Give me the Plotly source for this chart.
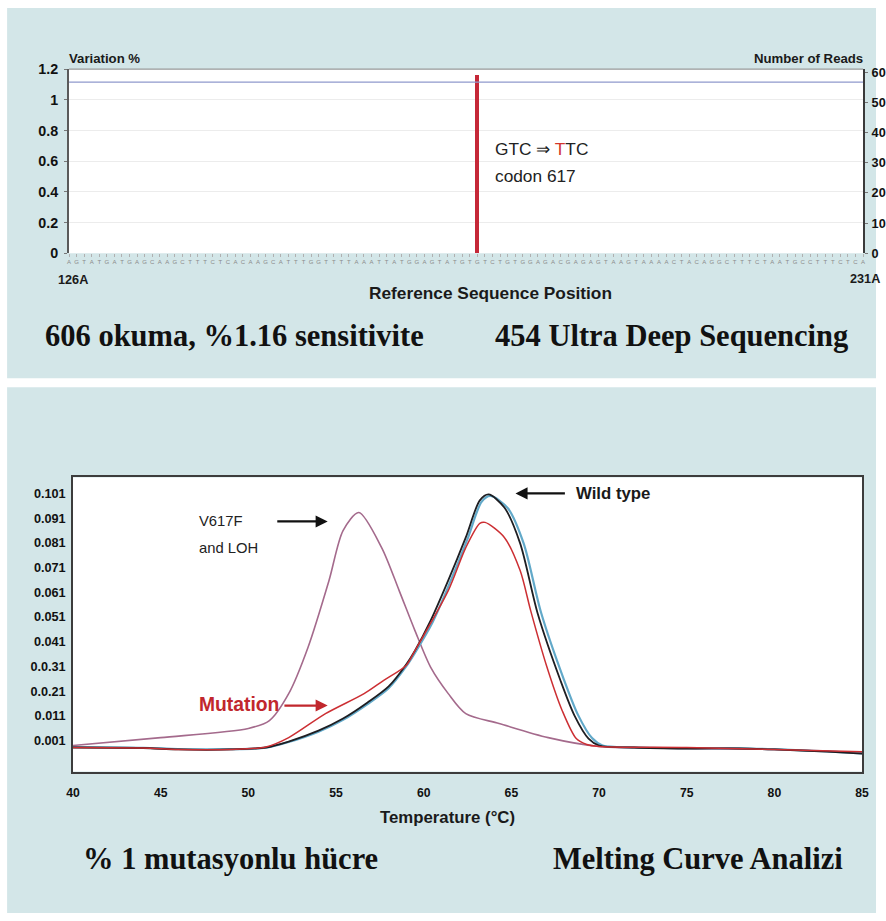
import plotly.graph_objects as go

W, H = 886, 921
# the photographed page is shrunk slightly and offset; positions below are given in
# reference-picture pixels and converted with this measured mapping
SHOT_SCALE = 0.982
SHOT_OFFSET = 7.9

# ---------------- data: top chart (454 ultra deep sequencing) ----------------
seq_start = 126
seq_end = 231
sequence = "AGTATGATGAGCAAGCTTTCTCACAAGCATTTGGTTTTAAATTATGGAGTATGTGTCTGTGGAGACGAGAGTAAGTAAAACTACAGGCTTTCTAATGCCTTTCTCAG"
variant_position = [180]
variation_pct = [1.16]
coverage_reads = [56.7, 56.7]
coverage_x = [126, 231]
left_ticks = [0, 0.2, 0.4, 0.6, 0.8, 1, 1.2]
left_ticktext = ["0", "0.2", "0.4", "0.6", "0.8", "1", "1.2"]
right_ticks = [0, 10, 20, 30, 40, 50, 60]

# ---------------- data: bottom chart (melting curves) ----------------
black_T = [40, 44, 46, 49, 51, 52.3, 54.0, 55.4, 56.8, 58.0, 59.0, 59.5, 60.4, 61.4, 62.4, 63.2, 63.7,
           64.6, 65.5, 66.5, 67.8, 68.6, 69.4, 70.0, 72, 75, 78, 80, 83, 85]
black_v = [-0.0018, -0.0020, -0.0026, -0.0026, -0.0018, 0.0006, 0.0050, 0.0099, 0.0164, 0.0229, 0.0318,
           0.0374, 0.0496, 0.0658, 0.0832, 0.0982, 0.1006, 0.0953, 0.0808, 0.0524, 0.0253, 0.0111, 0.0018,
           -0.0010, -0.0018, -0.0022, -0.0022, -0.0026, -0.0035, -0.0043]

blue_T = [40, 44, 46, 49, 51, 52.3, 54.0, 55.4, 56.8, 58.0, 59.0, 59.5, 60.5, 61.5, 62.5, 63.3, 63.8,
          64.8, 65.7, 66.7, 68.0, 68.8, 69.6, 70.2, 72, 75, 78, 80, 83, 85]
blue_v = [-0.0016, -0.0019, -0.0024, -0.0025, -0.0019, 0.0004, 0.0046, 0.0094, 0.0158, 0.0222, 0.0310,
          0.0365, 0.0488, 0.0650, 0.0826, 0.0976, 0.1000, 0.0950, 0.0808, 0.0526, 0.0256, 0.0114, 0.0020,
          -0.0010, -0.0017, -0.0021, -0.0021, -0.0025, -0.0034, -0.0042]

red_T = [40, 44, 46, 49, 51, 52.3, 54.4, 56.6, 57.7, 59.0, 59.5, 61.4, 62.4, 63.2, 63.5, 64.6, 65.5,
         66.1, 67.0, 67.9, 68.7, 69.3, 70, 75, 80, 85]
red_v = [-0.0018, -0.0020, -0.0026, -0.0026, -0.0016, 0.0022, 0.0119, 0.0200, 0.0253, 0.0314, 0.0374,
         0.0617, 0.0791, 0.0889, 0.0893, 0.0832, 0.0698, 0.0536, 0.0314, 0.0131, 0.0018, -0.0006, -0.0014,
         -0.0018, -0.0026, -0.0035]

purple_T = [40, 45, 50, 51.2, 52.3, 53.4, 54.6, 55.4, 56.3, 57.6, 58.6, 59.5, 60.4, 61.4, 62.4, 64.3,
            67.1, 70.0, 75, 80, 85]
purple_v = [-0.0010, 0.0022, 0.0059, 0.0091, 0.0200, 0.0387, 0.0658, 0.0860, 0.0933, 0.0791, 0.0617,
            0.0455, 0.0306, 0.0200, 0.0119, 0.0079, 0.0022, -0.0014, -0.0022, -0.0026, -0.0039]

temp_ticks = [40, 45, 50, 55, 60, 65, 70, 75, 80, 85]
deriv_ticks = [0.001, 0.011, 0.021, 0.031, 0.041, 0.051, 0.061, 0.071, 0.081, 0.091, 0.101]
deriv_ticktext = ["0.001", "0.011", "0.0.21", "0.0.31", "0.041", "0.051", "0.061", "0.071", "0.081",
                  "0.091", "0.101"]


def px(x):
    return min(max((x - SHOT_OFFSET) / SHOT_SCALE / W, 0), 1)


def py(y):
    return min(max(1 - (y - SHOT_OFFSET) / SHOT_SCALE / H, 0), 1)


def fs(size):
    return round(size / SHOT_SCALE, 1)


SANS = "Liberation Sans, Arial, sans-serif"
SERIF = "Liberation Serif, Times New Roman, serif"
PANEL = "#d3e6e8"

positions = list(range(seq_start, seq_end + 1))
letters = list(sequence[:len(positions)])

fig = go.Figure()

# top chart traces
fig.add_trace(go.Bar(x=variant_position, y=variation_pct, width=0.55, marker_color="#c52838",
                     marker_line_width=0, xaxis="x", yaxis="y", showlegend=False, hoverinfo="skip"))
fig.add_trace(go.Scatter(x=coverage_x, y=coverage_reads, mode="lines", line=dict(color="#8f99cc", width=1.2),
                         xaxis="x", yaxis="y2", showlegend=False, hoverinfo="skip"))

# bottom chart traces
fig.add_trace(go.Scatter(x=purple_T, y=purple_v, mode="lines",
                         line=dict(color="#a46a8c", width=1.6, shape="spline", smoothing=0.8),
                         xaxis="x2", yaxis="y3", showlegend=False))
fig.add_trace(go.Scatter(x=blue_T, y=blue_v, mode="lines",
                         line=dict(color="#62a9c9", width=2.2, shape="spline", smoothing=0.8),
                         xaxis="x2", yaxis="y3", showlegend=False))
fig.add_trace(go.Scatter(x=black_T, y=black_v, mode="lines",
                         line=dict(color="#1e1e22", width=1.8, shape="spline", smoothing=0.8),
                         xaxis="x2", yaxis="y3", showlegend=False))
fig.add_trace(go.Scatter(x=red_T, y=red_v, mode="lines",
                         line=dict(color="#cc2f33", width=1.5, shape="spline", smoothing=0.8),
                         xaxis="x2", yaxis="y3", showlegend=False))

shapes = [
    dict(type="rect", xref="paper", yref="paper", x0=px(8), x1=1, y0=py(378), y1=1,
         fillcolor=PANEL, line_width=0, layer="below"),
    dict(type="rect", xref="paper", yref="paper", x0=px(8), x1=1, y0=py(916), y1=py(387),
         fillcolor=PANEL, line_width=0, layer="below"),
    dict(type="rect", xref="x domain", yref="y domain", x0=0, x1=1, y0=0, y1=1,
         fillcolor="white", line_width=0, layer="below"),
    dict(type="rect", xref="x2 domain", yref="y3 domain", x0=0, x1=1, y0=0, y1=1,
         fillcolor="white", line_width=0, layer="below"),
    dict(type="line", xref="x domain", yref="y domain", x0=0, x1=1, y0=1, y1=1,
         line=dict(color="#9a9a9a", width=1.2)),
]

annotations = []


def txt(text, x, y, size, xanchor="left", color="#1a1a1a", family=SANS, weight="bold"):
    annotations.append(dict(text=text, x=px(x), y=py(y), xref="paper", yref="paper", xanchor=xanchor,
                            yanchor="middle", showarrow=False,
                            font=dict(size=fs(size), color=color, family=family, weight=weight)))


def arrow(x_head, x_tail, y, color):
    annotations.append(dict(text="", x=px(x_head), y=py(y), xref="paper", yref="paper",
                            ax=(x_tail - x_head) / SHOT_SCALE, ay=0, axref="pixel", ayref="pixel",
                            showarrow=True, arrowhead=2, arrowsize=1.1, arrowwidth=2.2, arrowcolor=color))


# top chart texts
txt("Variation %", 68, 58, 13)
txt("Number of Reads", 867, 58, 13, xanchor="right")
txt("126A", 57, 280, 12.5)
txt("231A", 850, 279, 12.5)
txt("Reference Sequence Position", 492, 293, 17, xanchor="center")
txt("GTC \u21d2 <span style='color:#d2352c'>T</span>TC", 494, 149, 17, color="#222222", weight="normal")
txt("codon 617", 494, 176, 17, color="#222222", weight="normal")
txt("606 okuma, %1.16 sensitivite", 44, 336, 30, family=SERIF, color="#111111")
txt("454 Ultra Deep Sequencing", 494, 336, 30, family=SERIF, color="#111111")

# bottom chart texts
txt("V617F", 198, 521, 14.5, color="#222222", weight="normal")
txt("and LOH", 198, 548, 14.5, color="#222222", weight="normal")
arrow(329, 278, 521, "#111111")
txt("Wild type", 576, 493, 16.5)
arrow(517, 567, 493, "#111111")
txt("Mutation", 198, 704, 19, color="#c1272d")
arrow(329, 285, 705, "#c1272d")
txt("Temperature (°C)", 449, 817, 16.5, xanchor="center")
txt("% 1 mutasyonlu hücre", 82, 858, 30, family=SERIF, color="#111111")
txt("Melting Curve Analizi", 553, 858, 30, family=SERIF, color="#111111")

fig.update_layout(
    width=W, height=H, margin=dict(l=0, r=0, t=0, b=0),
    paper_bgcolor="white", plot_bgcolor="rgba(0,0,0,0)",
    shapes=shapes, annotations=annotations, bargap=0,
    xaxis=dict(domain=[px(70), px(865)], range=[seq_start, seq_end], anchor="y",
               tickmode="array", tickvals=positions, ticktext=letters, tickangle=0,
               tickfont=dict(size=6, color="#8a8a8a", family=SANS),
               ticks="outside", ticklen=3, tickwidth=1, tickcolor="#b0b0b0",
               showgrid=False, zeroline=False, showline=False, fixedrange=True),
    yaxis=dict(domain=[py(253), py(69)], range=[0, 1.2], anchor="x",
               tickmode="array", tickvals=left_ticks, ticktext=left_ticktext,
               tickfont=dict(size=fs(14), color="#111111", family=SANS, weight="bold"),
               ticks="outside", ticklen=3, tickcolor="#777777", ticklabelstandoff=3,
               showgrid=True, gridcolor="#ececec", gridwidth=1, zeroline=False,
               showline=True, linecolor="#5a5a5a", linewidth=2),
    yaxis2=dict(overlaying="y", side="right", anchor="x", range=[0, 61],
                tickmode="array", tickvals=right_ticks,
                tickfont=dict(size=fs(12.5), color="#111111", family=SANS, weight="bold"),
                ticks="outside", ticklen=3, tickcolor="#777777", ticklabelstandoff=1,
                showgrid=False, zeroline=False, showline=True, linecolor="#3a3a3a", linewidth=2),
    xaxis2=dict(domain=[px(74), px(864)], range=[40, 85], anchor="y3",
                tickmode="array", tickvals=temp_ticks,
                tickfont=dict(size=fs(12), color="#111111", family=SANS, weight="bold"),
                ticks="", ticklabelstandoff=9,
                showgrid=False, zeroline=False, showline=True, mirror=True,
                linecolor="#3c3c3c", linewidth=1.6),
    yaxis3=dict(domain=[py(771), py(477)], range=[-0.01155, 0.1075], anchor="x2",
                tickmode="array", tickvals=deriv_ticks, ticktext=deriv_ticktext,
                tickfont=dict(size=fs(12.5), color="#111111", family=SANS, weight="bold"),
                ticks="", ticklabelstandoff=3,
                showgrid=False, zeroline=False, showline=True, mirror=True,
                linecolor="#3c3c3c", linewidth=1.6),
)

fig.write_html("out.html", config={"displayModeBar": False},
               post_script="document.body.style.margin='0';document.body.style.overflow='hidden';")
